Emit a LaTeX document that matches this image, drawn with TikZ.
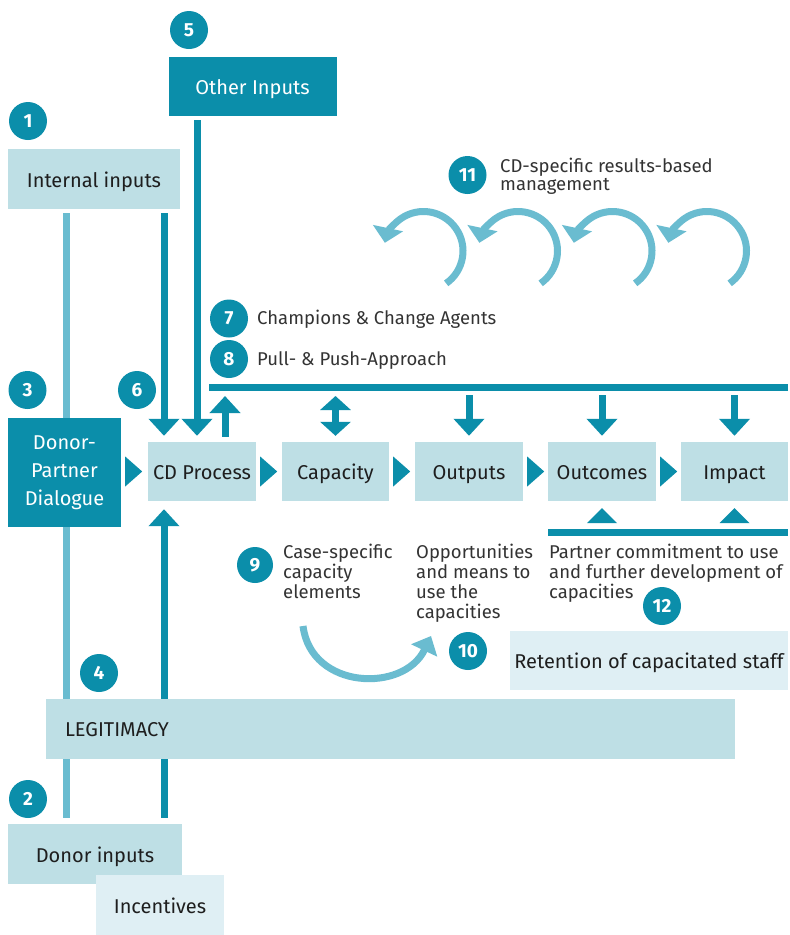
\documentclass[tikz,border=0pt]{standalone}
\usepackage{fontspec}
\setmainfont{Fira Sans}
\usetikzlibrary{arrows.meta,calc}
\definecolor{cdteal}{HTML}{0B8EAA}
\definecolor{cdlight}{HTML}{BEDFE5}
\definecolor{cdpale}{HTML}{DFEFF4}
\definecolor{cdsky}{HTML}{6ABCD0}
\definecolor{cdtext}{HTML}{1E1E1E}
\definecolor{cdnote}{HTML}{333333}
\begin{document}
\begin{tikzpicture}[x=1pt,y=-1pt,
  basebox/.style={fill=cdlight, draw=none, inner sep=0pt, text=cdtext, font=\fontsize{20}{24}\selectfont, minimum height=59pt},
  box/.style={basebox, text height=16pt, text depth=0pt},
  pbox/.style={box, fill=cdpale},
  dbox/.style={box, fill=cdteal, text=white},
  num/.style={circle, fill=cdteal, text=white, font=\bfseries\fontsize{19}{19}\selectfont, minimum size=38pt, inner sep=0pt},
  note/.style={font=\fontsize{18.5}{20}\selectfont, text=cdnote, inner sep=0pt, align=left},
  stem/.style={draw=cdteal, line width=7pt},
  dar/.style={stem, -{Triangle[width=30pt,length=17pt]}},
  dbl/.style={stem, {Triangle[width=30pt,length=14pt]}-{Triangle[width=30pt,length=14pt]}},
  lline/.style={draw=cdsky, line width=7pt},
  cyc/.style={lline, -{Triangle[width=30pt,length=15pt]}},
  tri/.style={fill=cdteal}
]
\useasboundingbox[fill=white] (0,0) rectangle (790,935);

% x positions of the vertical connectors
\coordinate (xl) at (66,0);
\coordinate (xa) at (164,0);
\coordinate (xb) at (197,0);
\coordinate (xc) at (225,0);

% top boxes
\node[num] (n5) at (189,30) {5};
\node[dbox, minimum width=168pt] (oin) at (252.5,86.5) {Other Inputs};
\node[num] (n1) at (28,121) {1};
\node[box, minimum width=172pt, minimum height=60pt] (iin) at (94,179) {Internal inputs};
\node[box, minimum width=174pt, minimum height=60pt] (dinp) at (95,854) {Donor inputs};

% long light line behind the boxes
\draw[lline] ($(iin.south -| xl)+(0,4)$) -- ($(dinp.north -| xl)+(0,-6)$);

% main row
\node[basebox, fill=cdteal, text=white, minimum width=113pt, minimum height=109pt, align=center, font=\fontsize{20}{28}\selectfont] (dpd) at (64.5,472.5) {Donor-\\Partner\\Dialogue};
\node[box, minimum width=108pt] (cdp) at (202,471.5) {CD Process};
\node[box, minimum width=107pt] (cap) at (335.5,471.5) {Capacity};
\node[box, minimum width=108pt] (outp) at (469,471.5) {Outputs};
\node[box, minimum width=108pt] (outc) at (602,471.5) {Outcomes};
\node[box, minimum width=107pt] (imp) at (734.5,471.5) {Impact};

\foreach \a/\b in {dpd/cdp, cdp/cap, cap/outp, outp/outc, outc/imp}{
  \fill[tri] ($(\a.east |- cdp.east)+(4,-15)$) -- ($(\a.east |- cdp.east)+(21,0)$) -- ($(\a.east |- cdp.east)+(4,15)$) -- cycle;
}

% inputs into CD Process
\draw[dar] ($(iin.south -| xa)+(0,4)$) -- ($(cdp.north -| xa)+(0,-6)$);
\draw[dar] ($(oin.south -| xb)+(0,4)$) -- ($(cdp.north -| xb)+(0,-6)$);
\draw[dar] ($(dinp.north -| xa)+(0,-6)$) -- ($(cdp.south -| xa)+(0,8)$);

% legitimacy (over the lines)
\node[box, minimum height=60pt, text width=651pt, inner xsep=19pt, align=left] (leg) at (390.5,728.5) {LEGITIMACY};
\node[pbox, minimum width=128pt, minimum height=60pt] (inc) at (160,905) {Incentives};

% top bar
\coordinate (barL) at (209,387);
\coordinate (barR) at (788,387);
\draw[stem] (barL) -- (barR);
\draw[dar] ($(cdp.north -| xc)+(0,-5)$) -- ($(barL -| xc)+(0,9)$);
\draw[dbl] ($(barL -| cap)+(0,9)$) -- ($(cap.north)+(0,-6)$);
\foreach \b in {outp, outc, imp}{
  \draw[dar] ($(barL -| \b)+(0,8)$) -- ($(\b.north)+(0,-6)$);
}

% bottom bar
\coordinate (bbL) at (548,532);
\coordinate (bbR) at (788,532);
\draw[stem] (bbL) -- (bbR);
\foreach \b in {outc, imp}{
  \fill[tri] ($(\b.south)+(0,7)$) -- ($(\b.south)+(15,22)$) -- ($(\b.south)+(-15,22)$) -- cycle;
}

% numbers
\node[num] (n3) at (27.5,390) {3};
\node[num] (n6) at (137,390) {6};
\node[num] (n7) at (229,318.5) {7};
\node[num] (n8) at (229,359) {8};
\node[num] (n11) at (467.5,175) {11};
\node[num, minimum size=36pt] (n9) at (255,565) {9};
\node[num] (n10) at (468,651) {10};
\node[num] (n12) at (662,606) {12};
\node[num] (n2) at (28,799) {2};
\node[num] (n4) at (99,673) {4};

% notes (base anchor = baseline of the last line)
\node[note, anchor=base west] (t7) at (257,324.5) {Champions \& Change Agents};
\node[note, anchor=base west] (t8) at (257,365) {Pull- \& Push-Approach};
\node[note, anchor=base west, font=\fontsize{18.5}{18.5}\selectfont] (t11) at (500,190.5) {CD-specific results-based\\management};
\node[note, anchor=base west] (t9) at (283,598.5) {Case-specific\\capacity\\elements};
\node[note, anchor=base west] (t10) at (416,618.5) {Opportunities\\and means to\\use the\\capacities};
\node[note, anchor=base west] (t12) at (549,598.5) {Partner commitment to use\\and further development of\\capacities};

\node[pbox, minimum width=278pt] (ret) at (649,660.5) {Retention of capacitated staff};

% curved arrow 9 -> 10
\coordinate (ca) at (303,626);
\coordinate (cb) at (431,636);
\draw[lline, -{Triangle[width=28pt,length=16pt]}] (ca) .. controls (311,690) and (404,693) .. (cb);

% results-based management cycles
\foreach \cx [count=\i] in {423.5,518,612.5,707}{
  \coordinate (c\i) at (\cx,251);
  \draw[cyc] ($(c\i)+(-55:39.5pt)$) arc[start angle=-55, end angle=168, radius=39.5pt];
}
\end{tikzpicture}
\end{document}
